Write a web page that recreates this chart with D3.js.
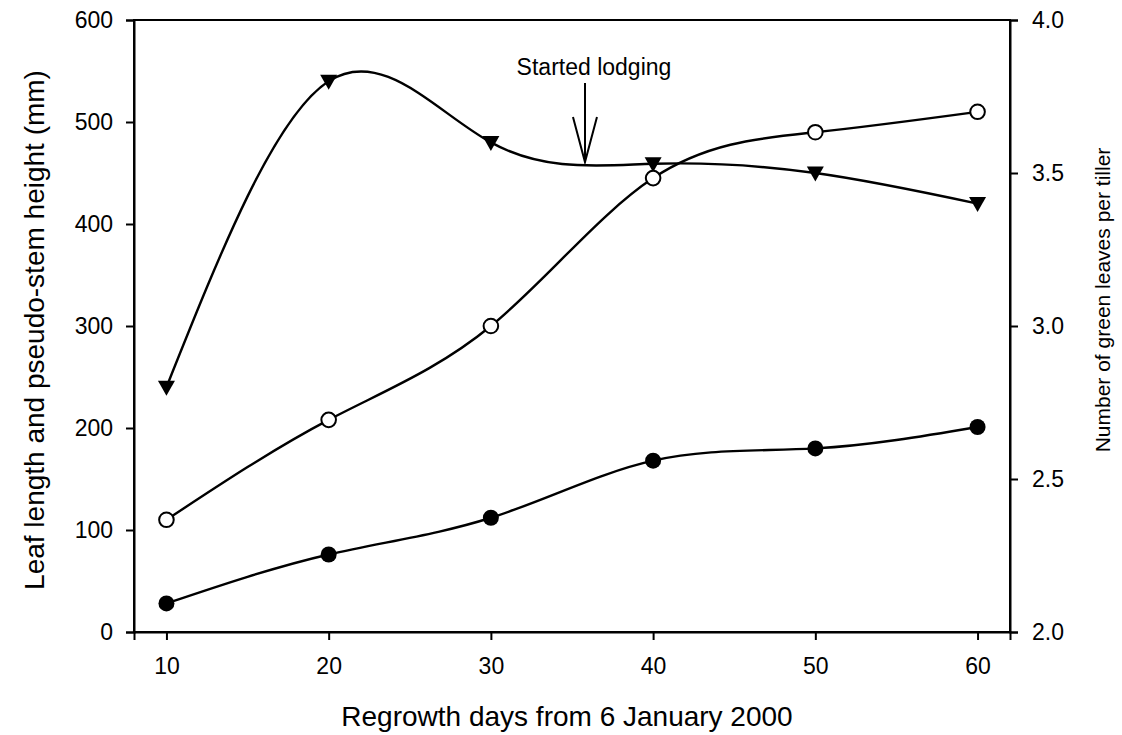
<!DOCTYPE html>
<html>
<head>
<meta charset="utf-8">
<script src="https://cdn.jsdelivr.net/npm/d3@7"></script>
<style>
  body { margin:0; background:#fff; }
  text { font-family: Arial, "Liberation Sans", Helvetica, sans-serif; fill:#000; }
</style>
</head>
<body>
<div id="chart"></div>
<script>
// regrowth days
var days = [10, 20, 30, 40, 50, 60];
// leaf length (mm), open circles
var leafLength = [110, 208, 300, 445, 490, 510];
// pseudo-stem height (mm), filled circles
var stemHeight = [28, 76, 112, 168, 180, 201];
// green leaves per tiller, triangles (right axis)
var greenLeaves = [2.8, 3.8, 3.6, 3.53, 3.5, 3.4];

var xTicks = [10, 20, 30, 40, 50, 60];
var yLeftTicks = [0, 100, 200, 300, 400, 500, 600];
var yRightTicks = [2.0, 2.5, 3.0, 3.5, 4.0];
var lodgingDay = 35.8;

var W = 1122, H = 735,
    margin = {top: 20, right: 112, bottom: 103, left: 134},
    width = W - margin.left - margin.right,
    height = H - margin.top - margin.bottom;

var svg = d3.select("#chart").append("svg").attr("width", W).attr("height", H);
var g = svg.append("g").attr("transform", "translate(" + margin.left + "," + margin.top + ")");

var x = d3.scaleLinear().domain([8, 62]).range([0, width]);
var yL = d3.scaleLinear().domain([0, 600]).range([height, 0]);
var yR = d3.scaleLinear().domain([2, 4]).range([height, 0]);

// frame
g.append("rect").attr("width", width).attr("height", height)
  .attr("fill", "none").attr("stroke", "#000").attr("stroke-width", 2);

var xAxis = g.append("g").attr("transform", "translate(0," + height + ")")
  .call(d3.axisBottom(x).tickValues(xTicks).tickSize(8).tickPadding(18).tickFormat(d3.format("d")));
var yAxisL = g.append("g")
  .call(d3.axisLeft(yL).tickValues(yLeftTicks).tickSize(8).tickPadding(13).tickFormat(d3.format("d")));
var yAxisR = g.append("g").attr("transform", "translate(" + width + ",0)")
  .call(d3.axisRight(yR).tickValues(yRightTicks).tickSize(8).tickPadding(14).tickFormat(d3.format(".1f")));

[xAxis, yAxisL, yAxisR].forEach(function(a) {
  a.select(".domain").attr("stroke-width", 2);
  a.selectAll(".tick line").attr("stroke-width", 2);
  a.selectAll("text").style("font-size", "23px").attr("fill", "#000");
});

function series(vals, yScale) {
  return days.map(function(d, i) { return {x: d, y: vals[i], ys: yScale}; });
}
var line = d3.line().curve(d3.curveNatural)
  .x(function(d) { return x(d.x); })
  .y(function(d) { return d.ys(d.y); });

var tri = series(greenLeaves, yR),
    open = series(leafLength, yL),
    filled = series(stemHeight, yL);

[tri, open, filled].forEach(function(s) {
  g.append("path").datum(s).attr("d", line)
    .attr("fill", "none").attr("stroke", "#000").attr("stroke-width", 2.4);
});

// markers
g.selectAll(".tri").data(tri).enter().append("path")
  .attr("class", "tri")
  .attr("d", "M-8.5,-6.5L8.5,-6.5L0,8.5Z")
  .attr("transform", function(d) { return "translate(" + x(d.x) + "," + d.ys(d.y) + ")"; })
  .attr("fill", "#000");

g.selectAll(".open").data(open).enter().append("circle")
  .attr("class", "open")
  .attr("cx", function(d) { return x(d.x); })
  .attr("cy", function(d) { return d.ys(d.y); })
  .attr("r", 7.3).attr("fill", "#fff").attr("stroke", "#000").attr("stroke-width", 2);

g.selectAll(".filled").data(filled).enter().append("circle")
  .attr("class", "filled")
  .attr("cx", function(d) { return x(d.x); })
  .attr("cy", function(d) { return d.ys(d.y); })
  .attr("r", 8).attr("fill", "#000");

// lodging annotation
var ax = x(lodgingDay);
g.append("text").attr("x", ax + 9).attr("y", 55).attr("text-anchor", "middle")
  .style("font-size", "23px").text("Started lodging");
g.append("line").attr("x1", ax).attr("x2", ax).attr("y1", 63).attr("y2", 142)
  .attr("stroke", "#000").attr("stroke-width", 2);
g.append("path").attr("d", "M" + (ax - 12) + ",97L" + ax + ",142L" + (ax + 12) + ",97")
  .attr("fill", "none").attr("stroke", "#000").attr("stroke-width", 2);

// axis titles
svg.append("text").attr("x", 567).attr("y", 726).attr("text-anchor", "middle")
  .style("font-size", "28px").text("Regrowth days from 6 January 2000");
svg.append("text").attr("transform", "translate(44,330) rotate(-90)")
  .attr("text-anchor", "middle").style("font-size", "28px")
  .text("Leaf length and pseudo-stem height (mm)");
svg.append("text").attr("transform", "translate(1110,300) rotate(-90)")
  .attr("text-anchor", "middle").style("font-size", "21px")
  .text("Number of green leaves per tiller");
</script>
</body>
</html>
